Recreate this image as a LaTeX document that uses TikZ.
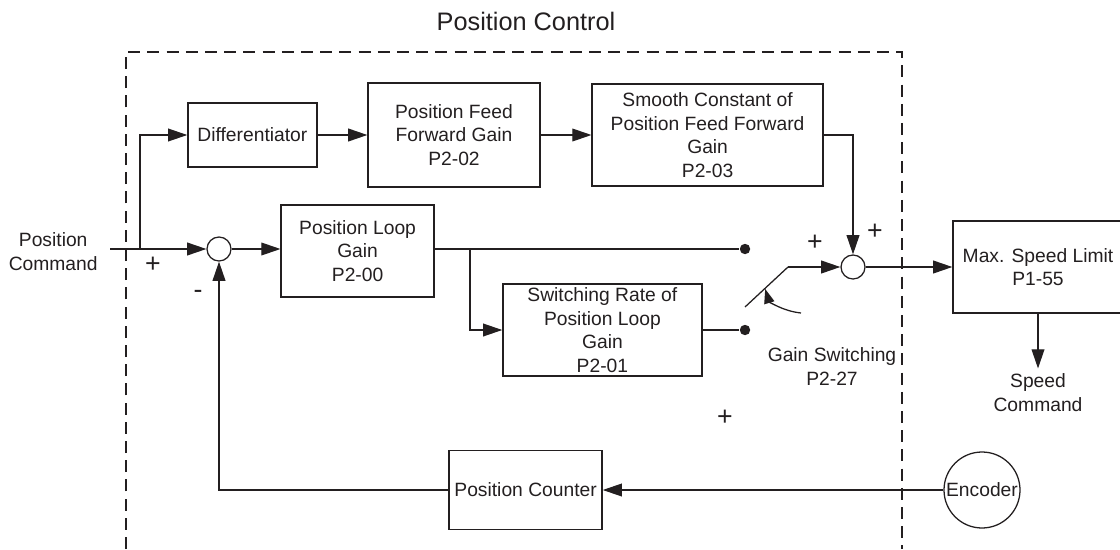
\documentclass[tikz,border=0pt]{standalone}
\usepackage{fontspec}
\setmainfont{Liberation Sans}
\usepackage{xcolor}
\usepackage{tikz}
\usetikzlibrary{arrows.meta,positioning}
\definecolor{DiagramInk}{HTML}{231F20}
\tikzset{
  diagram/.style={font=\fontsize{13.7}{16.7}\selectfont,color=DiagramInk,line width=0.9pt},
  block/.style={draw=DiagramInk,line width=0.9pt,align=center,inner sep=2pt},
  junction/.style={circle,draw=DiagramInk,line width=0.9pt,minimum size=0.6cm,inner sep=0pt},
  contact/.style={circle,fill=DiagramInk,minimum size=0.26cm,inner sep=0pt},
  sign/.style={font=\fontsize{19}{22}\selectfont,inner sep=0pt},
  wire/.style={line width=0.9pt,draw=DiagramInk},
  signal/.style={-{Triangle[length=4.8mm,width=3.2mm]},line width=0.9pt,draw=DiagramInk},
  frame/.style={dash pattern=on 3mm off 1.8mm,line width=0.9pt,draw=DiagramInk},
}
\begin{document}
\begin{tikzpicture}[diagram]
  \useasboundingbox (0,0) rectangle (28,13.725);

  \node[font=\fontsize{18}{22}\selectfont] (title) at (13.15,13.2) {Position Control};
  \draw[frame] (3.15,0) -- (3.15,12.425) -- (22.55,12.425) -- (22.55,0);

  \node[block,minimum width=3.225cm,minimum height=1.6cm] (diff) at (6.31,10.35) {Differentiator};
  \node[block,minimum width=4.3cm,minimum height=2.6cm] (ffgain) at (11.35,10.35)
    {Position Feed\\Forward Gain\\P2-02};
  \node[block,minimum width=5.775cm,minimum height=2.55cm] (ffsmooth) at (17.69,10.35)
    {Smooth Constant of\\Position Feed Forward\\Gain\\P2-03};

  \node[align=center] (poscmd) at (1.33,7.43) {Position\\Command};
  \coordinate (cmdin) at (2.75,7.5);
  \coordinate (tap) at (3.5,7.5);
  \node[junction] (sumA) at (5.475,7.5) {};
  \node[sign] (plusA) at (3.825,7.1) {+};
  \node[sign] (minusA) at (4.95,6.375) {-};

  \node[block,minimum width=3.825cm,minimum height=2.3cm] (kp) at (8.94,7.45)
    {Position Loop\\Gain\\P2-00};
  \coordinate (split) at (11.75,7.5);
  \node[block,minimum width=4.975cm,minimum height=2.3cm] (kpswitch) at (15.06,5.475)
    {Switching Rate of\\Position Loop\\Gain\\P2-01};

  \node[contact] (hi) at (18.625,7.5) {};
  \node[contact] (lo) at (18.625,5.475) {};
  \coordinate (armstart) at (18.625,6.05);
  \coordinate (armend) at (19.7,7.05);
  \coordinate (levfrom) at (20.025,5.9);
  \coordinate (levto) at (19.13,6.5);
  \node[align=center] (gsw) at (20.8,4.5625) {Gain Switching\\P2-27};

  \node[junction] (sumB) at (21.325,7.05) {};
  \node[sign] (plusB) at (20.375,7.65) {+};
  \node[sign] (plusC) at (21.875,7.925) {+};
  \node[sign] (plusD) at (18.125,3.275) {+};

  \node[block,minimum width=4.25cm,minimum height=2.3cm] (limit) at (25.95,7.05)
    {Max. Speed Limit\\P1-55};
  \node[align=center] (speedcmd) at (25.95,3.91) {Speed\\Command};

  \node[block,minimum width=3.825cm,minimum height=1.975cm] (counter) at (13.14,1.475) {Position Counter};
  \node[circle,draw=DiagramInk,line width=0.9pt,minimum size=1.9cm,inner sep=0pt] (encoder) at (24.55,1.475) {Encoder};

  \draw[signal] (cmdin) -- (sumA);
  \draw[signal] (tap) |- (diff.west);
  \draw[signal] (diff) -- (ffgain);
  \draw[signal] (ffgain) -- (ffsmooth);
  \draw[signal] (ffsmooth.east) -| (sumB.north);
  \draw[signal] (sumA) -- (sumA -| kp.west);
  \draw[wire] (kp.east |- hi) -- (hi);
  \draw[signal] (split) |- (kpswitch.west);
  \draw[wire] (kpswitch.east |- lo) -- (lo);
  \draw[wire] (armstart) -- (armend);
  \draw[signal] (armend) -- (sumB.west);
  \draw[-{Triangle[length=3.6mm,width=2.6mm]}] (levfrom) .. controls (19.55,5.95) and (19.22,6.2) .. (levto);
  \draw[signal] (sumB) -- (sumB -| limit.west);
  \draw[signal] (limit.south) -- (speedcmd.north);
  \draw[signal] (encoder) -- (counter);
  \draw[signal] (counter.west) -| (sumA.south);
\end{tikzpicture}
\end{document}
